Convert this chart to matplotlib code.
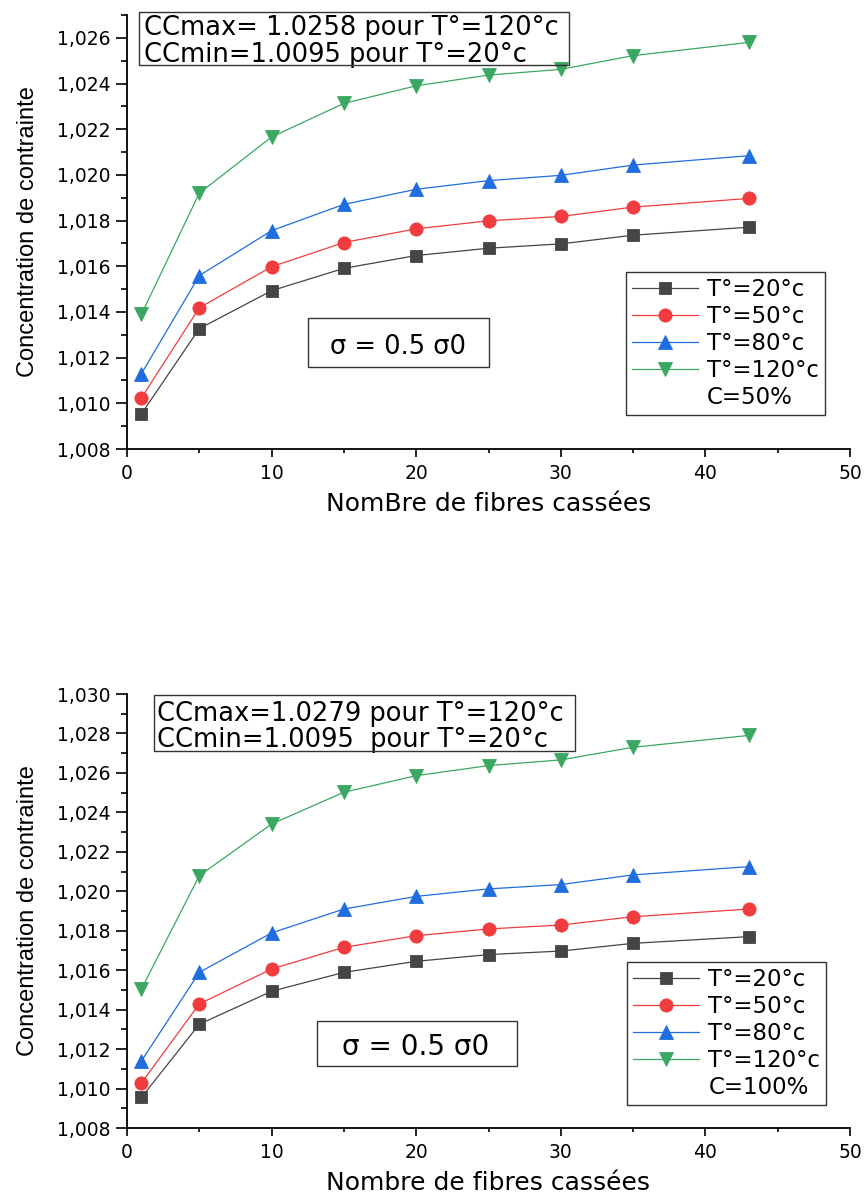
import matplotlib
matplotlib.use('Agg')
from matplotlib import pyplot as plt
from matplotlib.patches import Rectangle
from matplotlib.ticker import MultipleLocator, FuncFormatter

plt.rcParams['font.family'] = ['DejaVu Sans']

# data
n_fibres = [1, 5, 10, 15, 20, 25, 30, 35, 43]
labels = ['T°=20°c', 'T°=50°c', 'T°=80°c', 'T°=120°c']

# C = 50 %
c50_t20 = [1.00954, 1.01327, 1.01493, 1.01591, 1.01647, 1.01679, 1.01698, 1.01736, 1.01771]
c50_t50 = [1.01024, 1.01418, 1.01598, 1.01704, 1.01764, 1.01799, 1.01818, 1.01859, 1.01897]
c50_t80 = [1.01130, 1.01559, 1.01756, 1.01871, 1.01937, 1.01975, 1.01998, 1.02043, 1.02084]
c50_t120 = [1.01390, 1.01920, 1.02166, 1.02313, 1.02390, 1.02437, 1.02462, 1.02522, 1.02580]

# C = 100 %
c100_t20 = [1.00955, 1.01326, 1.01493, 1.01589, 1.01645, 1.01679, 1.01697, 1.01736, 1.01770]
c100_t50 = [1.01028, 1.01429, 1.01606, 1.01716, 1.01775, 1.01809, 1.01829, 1.01871, 1.01910]
c100_t80 = [1.01140, 1.01589, 1.01789, 1.01910, 1.01974, 1.02012, 1.02034, 1.02083, 1.02125]
c100_t120 = [1.01505, 1.02079, 1.02341, 1.02502, 1.02586, 1.02637, 1.02666, 1.02730, 1.02790]

COLORS = ['#454545', '#f03c3e', '#1f6ddf', '#3aa862']
MARKERS = ['s', 'o', '^', 'v']
MSIZES = [9, 9.5, 10.5, 10.5]

W, H = 866, 1196


def comma(v, pos):
    return f'{v:.3f}'.replace('.', ',')


def style_axes(ax, ymax, xlabel):
    for side in ['top', 'right']:
        ax.spines[side].set_visible(False)
    for side in ['left', 'bottom']:
        ax.spines[side].set_linewidth(1.3)
    ax.set_xlim(0, 50)
    ax.set_ylim(1.008, ymax)
    ax.xaxis.set_major_locator(MultipleLocator(10))
    ax.xaxis.set_minor_locator(MultipleLocator(5))
    ax.yaxis.set_major_locator(MultipleLocator(0.002))
    ax.yaxis.set_minor_locator(MultipleLocator(0.001))
    ax.yaxis.set_major_formatter(FuncFormatter(comma))
    ax.tick_params(axis='y', which='major', direction='out', length=8, width=1.2, pad=4, labelsize=13.5)
    ax.tick_params(axis='y', which='minor', direction='out', length=4, width=1.2)
    ax.tick_params(axis='x', which='major', direction='out', length=6, width=1.2, pad=4.5, labelsize=13.5)
    ax.tick_params(axis='x', which='minor', direction='out', length=3, width=1.2)
    ax.set_ylabel('Concentration de contrainte', family=['Liberation Sans', 'DejaVu Sans'], fontsize=17)
    ax.yaxis.set_label_coords(-0.122, 0.5)
    ax.set_xlabel(xlabel, fontsize=18)
    ax.xaxis.set_label_coords(0.5, -0.098)


def draw_series(ax, series, c_label, leg_xy):
    for i, ys in enumerate(series):
        ax.plot(n_fibres, ys, color=COLORS[i], lw=0.9, marker=MARKERS[i],
                ms=MSIZES[i], mfc=COLORS[i], mec=COLORS[i], mew=0.6,
                label=labels[i], clip_on=False, zorder=3)
    ax.plot([], [], ls='none', marker='none', label=c_label)
    leg = ax.legend(loc='upper left', bbox_to_anchor=leg_xy, borderaxespad=0,
                    fontsize=16.5, handlelength=2.9, handletextpad=0.4,
                    labelspacing=0.18, borderpad=0.25, numpoints=1,
                    fancybox=False, framealpha=1, edgecolor='#333333')
    leg.get_frame().set_linewidth(1.0)


def box(ax, x0, y0, w, h):
    ax.add_patch(Rectangle((x0, y0), w, h, transform=ax.transAxes, fill=False,
                           ec='#333333', lw=1.0, clip_on=False, zorder=4))


fig = plt.figure(figsize=(W / 100, H / 100), dpi=100)
ax1 = fig.add_axes([127 / W, 1 - 449 / H, 723 / W, 434 / H])
ax2 = fig.add_axes([127 / W, 1 - 1128 / H, 723 / W, 434 / H])

# top chart, C = 50 %
style_axes(ax1, 1.027, 'NomBre de fibres cassées')
draw_series(ax1, [c50_t20, c50_t50, c50_t80, c50_t120], 'C=50%', (0.690, 0.408))
box(ax1, 0.0166, 0.8848, 0.5947, 0.1221)
ax1.text(0.024, 0.9539, 'CCmax= 1.0258 pour T°=120°c', transform=ax1.transAxes,
         fontsize=18.5, va='baseline', ha='left')
ax1.text(0.024, 0.8917, 'CCmin=1.0095 pour T°=20°c', transform=ax1.transAxes,
         fontsize=18.5, va='baseline', ha='left')
box(ax1, 0.2503, 0.1889, 0.2503, 0.1129)
ax1.text(0.3748, 0.2189, 'σ = 0.5 σ0', transform=ax1.transAxes,
         fontsize=18.5, va='baseline', ha='center')

# bottom chart, C = 100 %
style_axes(ax2, 1.030, 'Nombre de fibres cassées')
draw_series(ax2, [c100_t20, c100_t50, c100_t80, c100_t120], 'C=100%', (0.6916, 0.3825))
box(ax2, 0.0373, 0.8687, 0.5823, 0.1290)
ax2.text(0.042, 0.9385, 'CCmax=1.0279 pour T°=120°c', transform=ax2.transAxes,
         fontsize=18.5, va='baseline', ha='left')
ax2.text(0.042, 0.8772, 'CCmin=1.0095  pour T°=20°c', transform=ax2.transAxes,
         fontsize=18.5, va='baseline', ha='left')
box(ax2, 0.2628, 0.1435, 0.2766, 0.1037)
ax2.text(0.3997, 0.1682, 'σ = 0.5 σ0', transform=ax2.transAxes,
         fontsize=20, va='baseline', ha='center')

fig.savefig('out.png', dpi=100)
